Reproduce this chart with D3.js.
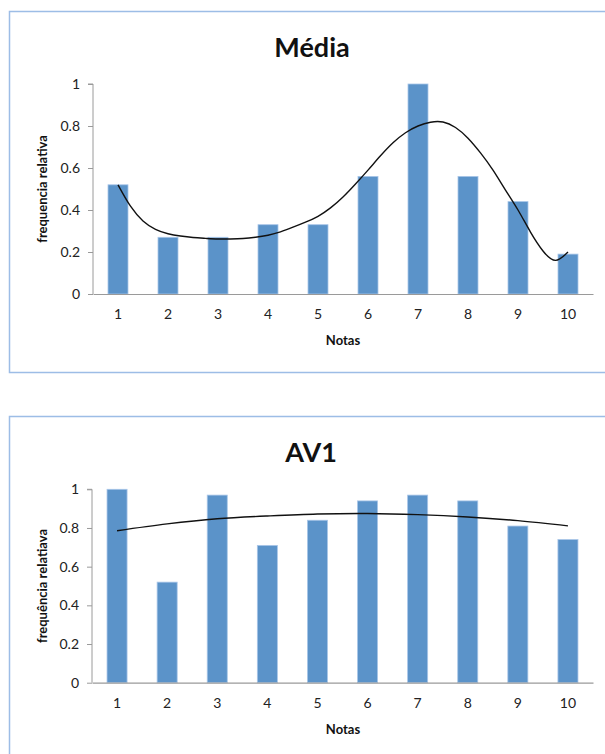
<!DOCTYPE html>
<html>
<head>
<meta charset="utf-8">
<script src="https://cdn.jsdelivr.net/npm/d3@7"></script>
<style>
  body { margin: 0; background: #fff; }
  svg { display: block; font-family: Lato, "Open Sans", sans-serif; }
</style>
</head>
<body>
<div id="chart"></div>
<script>
// categories
var notas = ["1", "2", "3", "4", "5", "6", "7", "8", "9", "10"];
var yTicks = [0, 0.2, 0.4, 0.6, 0.8, 1];

// Média chart
var mediaValues = [0.52, 0.27, 0.27, 0.33, 0.33, 0.56, 1.0, 0.56, 0.44, 0.19];
// trendline (x in nota units, every quarter)
var mediaTrendX = [1, 1.25, 1.5, 1.75, 2, 2.25, 2.5, 2.75, 3, 3.25, 3.5, 3.75, 4, 4.25, 4.5, 4.75, 5, 5.25, 5.5, 5.75,
                   6, 6.25, 6.5, 6.75, 7, 7.25, 7.5, 7.75, 8, 8.25, 8.5, 8.75, 9, 9.25, 9.5, 9.75, 10];
var mediaTrendY = [0.52, 0.418, 0.348, 0.308, 0.287, 0.276, 0.269, 0.265, 0.262, 0.262, 0.264, 0.27, 0.28, 0.296, 0.318, 0.342, 0.37, 0.41, 0.462, 0.524,
                   0.59, 0.658, 0.72, 0.768, 0.80, 0.818, 0.819, 0.793, 0.742, 0.672, 0.59, 0.495, 0.40, 0.295, 0.205, 0.16, 0.20];

// AV1 chart
var av1Values = [1.0, 0.52, 0.97, 0.71, 0.84, 0.94, 0.97, 0.94, 0.81, 0.74];
var av1TrendX = [1, 2, 3, 4, 5, 6, 7, 8, 9, 10];
var av1TrendY = [0.786, 0.821, 0.848, 0.862, 0.872, 0.875, 0.869, 0.857, 0.838, 0.811];

var svg = d3.select("#chart")
  .append("svg")
  .attr("width", 605)
  .attr("height", 754);

drawChart = (opt) => {

  // frame
  svg.append("rect")
    .attr("x", 9.5)
    .attr("y", opt.boxTop + 0.5)
    .attr("width", 620)
    .attr("height", opt.boxBottom - opt.boxTop)
    .attr("fill", "none")
    .attr("stroke", "#9dbde6")
    .attr("stroke-width", 1.5);

  var x = d3.scaleBand()
    .domain(notas)
    .range([opt.left, opt.right])
    .paddingInner(0.6)
    .paddingOuter(0.3);

  var y = d3.scaleLinear()
    .domain([0, 1])
    .range([opt.bottom, opt.top]);

  // x position for trendline (nota units)
  var xLin = d3.scaleLinear()
    .domain([1, 10])
    .range([x("1") + x.bandwidth() / 2, x("10") + x.bandwidth() / 2]);

  // bars
  svg.append("g")
    .selectAll("rect")
    .data(opt.values)
    .enter()
    .append("rect")
      .attr("x", function (d, i) { return x(notas[i]); })
      .attr("y", function (d) { return y(d); })
      .attr("width", x.bandwidth())
      .attr("height", function (d) { return y(0) - y(d); })
      .attr("fill", "#5b93c9")
      .attr("stroke", "#a9c6e8")
      .attr("stroke-width", 0.8);

  // y axis
  var yAxis = svg.append("g")
    .attr("transform", "translate(" + opt.left + ",0)")
    .call(d3.axisLeft(y).tickValues(yTicks).tickSize(5).tickPadding(8)
      .tickFormat(function (d) { return d === 0 || d === 1 ? d : d.toFixed(1); }));
  yAxis.select(".domain").attr("stroke", "#9a9a9a").attr("d", "M-5," + y(1) + "H0V" + y(0));
  yAxis.selectAll(".tick line").attr("stroke", "#9a9a9a");
  yAxis.selectAll(".tick text")
    .attr("font-size", "14px")
    .attr("fill", "#222")
    .attr("font-family", "Lato, sans-serif");

  // x axis
  var xAxis = svg.append("g")
    .attr("transform", "translate(0," + opt.bottom + ")")
    .call(d3.axisBottom(x).tickSize(0).tickPadding(15));
  xAxis.select(".domain").attr("stroke", "#9a9a9a").attr("stroke-width", 1.2);
  xAxis.selectAll(".tick text")
    .attr("font-size", "14px")
    .attr("fill", "#222")
    .attr("font-family", "Lato, sans-serif");

  // trendline
  var pts = opt.trendX.map(function (d, i) { return [d, opt.trendY[i]]; });
  svg.append("path")
    .datum(pts)
    .attr("fill", "none")
    .attr("stroke", "#111")
    .attr("stroke-width", 1.4)
    .attr("d", d3.line()
      .x(function (d) { return xLin(d[0]); })
      .y(function (d) { return y(d[1]); })
      .curve(d3.curveNatural));

  // title
  svg.append("text")
    .attr("x", opt.titleX)
    .attr("y", opt.titleY)
    .attr("text-anchor", "middle")
    .attr("font-size", "27px")
    .attr("font-weight", "bold")
    .attr("fill", "#111")
    .text(opt.title);

  // x label
  svg.append("text")
    .attr("x", 343)
    .attr("y", opt.bottom + 51)
    .attr("text-anchor", "middle")
    .attr("font-size", "13px")
    .attr("font-weight", "bold")
    .attr("fill", "#111")
    .text("Notas");

  // y label
  svg.append("text")
    .attr("transform", "translate(47," + ((opt.top + opt.bottom) / 2) + ") rotate(-90)")
    .attr("text-anchor", "middle")
    .attr("font-size", "13px")
    .attr("font-weight", "bold")
    .attr("fill", "#111")
    .text(opt.yLabel);
}

drawChart({
  boxTop: 11, boxBottom: 372,
  left: 93, right: 593, top: 84, bottom: 294,
  values: mediaValues, trendX: mediaTrendX, trendY: mediaTrendY,
  title: "Média", titleX: 312, titleY: 57,
  yLabel: "frequencia relativa"
});

drawChart({
  boxTop: 416, boxBottom: 770,
  left: 92, right: 593, top: 489.3, bottom: 682.7,
  values: av1Values, trendX: av1TrendX, trendY: av1TrendY,
  title: "AV1", titleX: 311, titleY: 462,
  yLabel: "frequência relatiava"
});
</script>
</body>
</html>
